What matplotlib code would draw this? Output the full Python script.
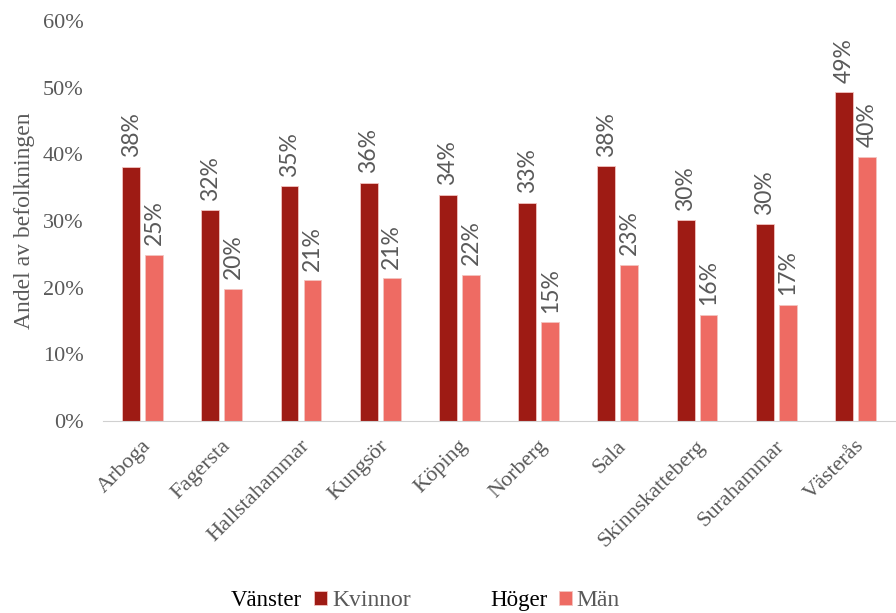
import numpy as np
import matplotlib.pyplot as plt
import matplotlib.transforms as mtransforms
from matplotlib.ticker import PercentFormatter

kommuner = ["Arboga", "Fagersta", "Hallstahammar", "Kungsör", "Köping",
            "Norberg", "Sala", "Skinnskatteberg", "Surahammar", "Västerås"]
kvinnor = [0.381, 0.316, 0.352, 0.357, 0.339, 0.327, 0.382, 0.301, 0.295, 0.493]
man = [0.249, 0.198, 0.211, 0.214, 0.219, 0.148, 0.234, 0.159, 0.174, 0.396]

dark = "#9e1b14"
light = "#ee6b63"
grey = "#595959"
serif = "Liberation Serif"

fig = plt.figure(figsize=(8.96, 6.13), dpi=100)
ax = fig.add_axes([0.115, 0.313, 0.884, 0.653])

x = np.arange(len(kommuner))
w = 0.225
b1 = ax.bar(x - 0.145, kvinnor, w, color=dark, edgecolor="#f3c4c0", linewidth=0.6)
b2 = ax.bar(x + 0.145, man, w, color=light, edgecolor="#f3c4c0", linewidth=0.6)

for bars, vals in ((b1, kvinnor), (b2, man)):
    for r, v in zip(bars, vals):
        ax.annotate(f"{v * 100:.0f}%", (r.get_x() + r.get_width() / 2, v),
                    xytext=(0, 7), textcoords="offset points",
                    rotation=90, ha="center", va="bottom",
                    fontsize=16.5, color=grey, family="Lato")

ax.set_xlim(-0.5, 9.5)
ax.set_ylim(0, 0.6)
ax.yaxis.set_major_formatter(PercentFormatter(1, decimals=0))
ax.set_yticks(np.arange(0, 0.61, 0.1))
ax.set_xticks(x)
ax.set_xticklabels(kommuner, rotation=45, ha="right", va="center", rotation_mode="anchor")
ax.tick_params(axis="y", length=0, labelsize=16, labelcolor=grey, pad=14)
ax.tick_params(axis="x", length=0, labelsize=16, labelcolor=grey, pad=16)
shift = mtransforms.ScaledTranslation(4 / 72, 0, fig.dpi_scale_trans)
for lab in ax.get_xticklabels():
    lab.set_family(serif)
    lab.set_transform(lab.get_transform() + shift)
for lab in ax.get_yticklabels():
    lab.set_family(serif)
ax.set_ylabel("Andel av befolkningen", family=serif, fontsize=17, color=grey, labelpad=6)

for s in ("top", "right", "left"):
    ax.spines[s].set_visible(False)
ax.spines["bottom"].set_color("#d0d0d0")

fig.text(0.258, 0.012, "Vänster", family=serif, fontsize=16.5, color="black")
fig.text(0.547, 0.012, "Höger", family=serif, fontsize=16.5, color="black")
leg_kw = dict(frameon=False, handlelength=0.55, handleheight=0.55,
              handletextpad=0.2, prop={"family": serif, "size": 17}, labelcolor=grey)
fig.legend([b1], ["Kvinnor"], loc="lower left", bbox_to_anchor=(0.327, -0.032), **leg_kw)
fig.legend([b2], ["Män"], loc="lower left", bbox_to_anchor=(0.6, -0.032), **leg_kw)

fig.savefig("out.png", dpi=100)
